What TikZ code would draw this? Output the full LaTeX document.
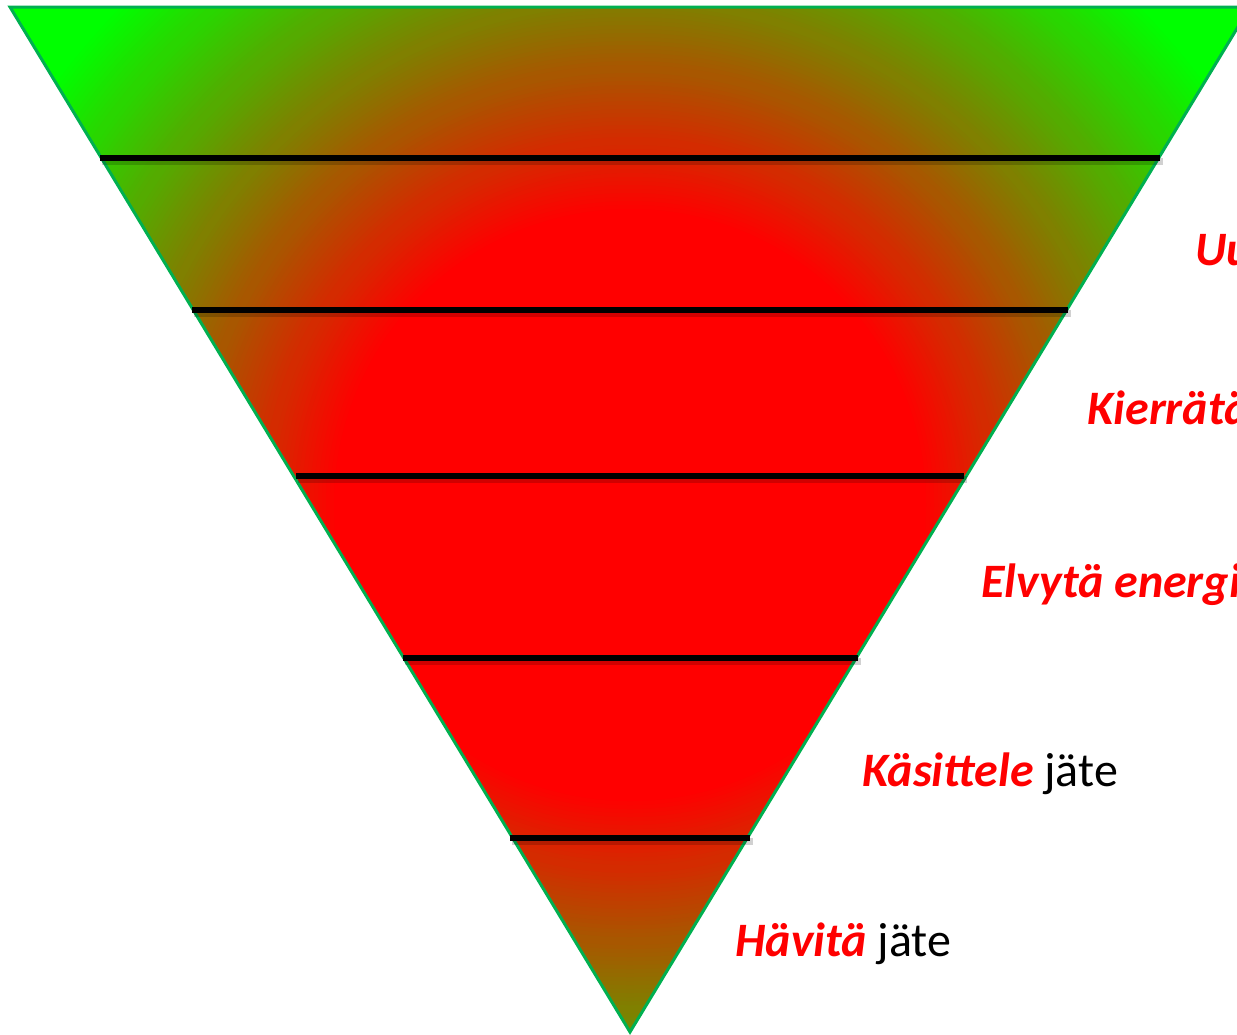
\documentclass[tikz,border=0pt]{standalone}
\usepackage{fontspec}
\setmainfont{Carlito}
\definecolor{pgreen}{RGB}{0,255,0}
\definecolor{pred}{RGB}{255,0,0}
\definecolor{edgegreen}{RGB}{0,176,80}
\tikzset{
  tri/.style={draw=edgegreen, line width=1.5pt, line join=miter},
  sep/.style={draw=black, line width=2.6pt},
  sepshadow/.style={draw=black, line width=3.5pt, opacity=0.18},
  lbl/.style={anchor=base west, inner sep=0pt, font=\fontsize{24}{28}\selectfont}
}
\newcommand{\rd}[1]{{\bfseries\itshape\color{pred}#1}}
\begin{document}
\begin{tikzpicture}[x=0.5pt,y=-0.5pt]
\useasboundingbox (0,0) rectangle (1237,1034);
\clip (0,0) rectangle (1237,1034);
\coordinate (tl) at (10,7);
\coordinate (tr) at (1250,7);
\coordinate (ap) at (630,1032);
\coordinate (ctr) at (630,505);
\begin{scope}
  \clip (tl) -- (tr) -- (ap) -- cycle;
  \fill[pgreen] (tl) -- (tr) -- (ap) -- cycle;
  \foreach \k in {0,...,110}{
    \pgfmathsetmacro{\rr}{720-4*\k}
    \pgfmathtruncatemacro{\pc}{min(100,\k*100/106)}
    \fill[pred!\pc!pgreen] (ctr) circle (\rr);
  }
\end{scope}
\draw[tri] (tl) -- (tr) -- (ap) -- cycle;
% separator lines
\foreach \i/\y/\xa/\xb in {1/158/100/1160, 2/310/192/1068, 3/476/296/964, 4/658/403/858, 5/838/510/750}{
  \coordinate (a\i) at (\xa,\y);
  \coordinate (b\i) at (\xb,\y);
  \draw[sepshadow] ([shift={(2,3)}]a\i) -- ([shift={(3,3)}]b\i);
  \draw[sep] (a\i) -- (b\i);
}
% labels
\node[lbl] (t1) at (1195,265) {\rd{Uudelleenkäytä}};
\node[lbl] (t2) at (1087,424) {\rd{Kierrätä}};
\node[lbl] (t3) at (981,597) {\rd{Elvytä energia}};
\node[lbl] (t4) at (862,786) {\rd{Käsittele} jäte};
\node[lbl] (t5) at (735,956) {\rd{Hävitä} jäte};
\end{tikzpicture}
\end{document}
